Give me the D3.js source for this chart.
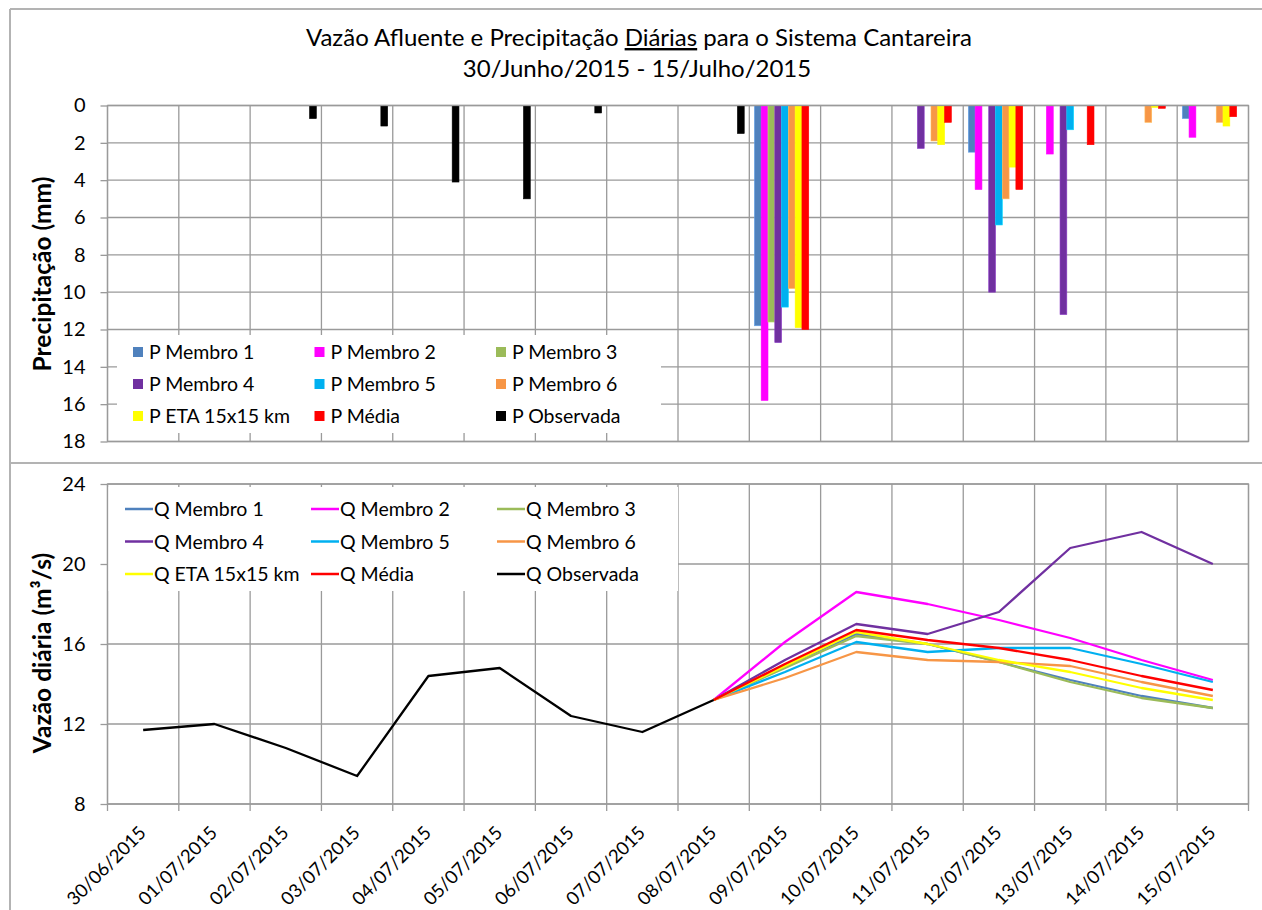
<!DOCTYPE html>
<html>
<head>
<meta charset="utf-8">
<script src="https://cdn.jsdelivr.net/npm/d3@7"></script>
<style>
  body { margin: 0; background: #fff; }
  text { font-family: Lato, "Open Sans", sans-serif; fill: #000; }
</style>
</head>
<body>
<div id="chart"></div>
<script>
// dias
const dates = ["30/06/2015", "01/07/2015", "02/07/2015", "03/07/2015", "04/07/2015", "05/07/2015",
    "06/07/2015", "07/07/2015", "08/07/2015", "09/07/2015", "10/07/2015", "11/07/2015",
    "12/07/2015", "13/07/2015", "14/07/2015", "15/07/2015"]

// precipitacao (mm)
const pMembro1 = [null, null, null, null, null, null, null, null, null, 11.8, 0, 0, 2.5, 0, 0, 0.7]
const pMembro2 = [null, null, null, null, null, null, null, null, null, 15.8, 0, 0, 4.5, 2.6, 0, 1.7]
const pMembro3 = [null, null, null, null, null, null, null, null, null, 11.6, 0, 0, 0, 0, 0, 0]
const pMembro4 = [null, null, null, null, null, null, null, null, null, 12.7, 0, 2.3, 10.0, 11.2, 0, 0]
const pMembro5 = [null, null, null, null, null, null, null, null, null, 10.8, 0, 0, 6.4, 1.3, 0, 0]
const pMembro6 = [null, null, null, null, null, null, null, null, null, 9.8, 0, 1.9, 5.0, 0, 0.9, 0.9]
const pEta = [null, null, null, null, null, null, null, null, null, 11.9, 0, 2.1, 3.3, 0, 0.1, 1.1]
const pMedia = [null, null, null, null, null, null, null, null, null, 12.0, 0, 0.9, 4.5, 2.1, 0.15, 0.6]
const pObservada = [0, 0, 0.7, 1.1, 4.1, 5.0, 0.4, 0, 1.5, null, null, null, null, null, null, null]

// vazao (m3/s)
const qMembro1 = [null, null, null, null, null, null, null, null, 13.2, 14.9, 16.5, 16.0, 15.1, 14.2, 13.4, 12.8]
const qMembro2 = [null, null, null, null, null, null, null, null, 13.2, 16.1, 18.6, 18.0, 17.2, 16.3, 15.2, 14.2]
const qMembro3 = [null, null, null, null, null, null, null, null, 13.2, 14.8, 16.4, 16.0, 15.1, 14.1, 13.3, 12.8]
const qMembro4 = [null, null, null, null, null, null, null, null, 13.2, 15.2, 17.0, 16.5, 17.6, 20.8, 21.6, 20.0]
const qMembro5 = [null, null, null, null, null, null, null, null, 13.2, 14.6, 16.1, 15.6, 15.8, 15.8, 15.0, 14.1]
const qMembro6 = [null, null, null, null, null, null, null, null, 13.2, 14.3, 15.6, 15.2, 15.1, 14.9, 14.1, 13.4]
const qEta = [null, null, null, null, null, null, null, null, 13.2, 14.9, 16.6, 16.0, 15.2, 14.6, 13.8, 13.2]
const qMedia = [null, null, null, null, null, null, null, null, 13.2, 15.0, 16.7, 16.2, 15.8, 15.2, 14.4, 13.7]
const qObservada = [11.7, 12.0, 10.8, 9.4, 14.4, 14.8, 12.4, 11.6, 13.2, null, null, null, null, null, null, null]

const pNames = ["P Membro 1", "P Membro 2", "P Membro 3", "P Membro 4", "P Membro 5", "P Membro 6",
    "P ETA 15x15 km", "P Média", "P Observada"]
const qNames = ["Q Membro 1", "Q Membro 2", "Q Membro 3", "Q Membro 4", "Q Membro 5", "Q Membro 6",
    "Q ETA 15x15 km", "Q Média", "Q Observada"]
const pValues = [pMembro1, pMembro2, pMembro3, pMembro4, pMembro5, pMembro6, pEta, pMedia, pObservada]
const qValues = [qMembro1, qMembro2, qMembro3, qMembro4, qMembro5, qMembro6, qEta, qMedia, qObservada]
const pTicks = [0, 2, 4, 6, 8, 10, 12, 14, 16, 18]
const qTicks = [8, 12, 16, 20, 24]

const colors = ["#4F81BD", "#FF00FF", "#9BBB59", "#7030A0", "#00B0F0", "#F79646", "#FFFF00", "#FF0000", "#000000"]
const gridColor = "#9a9a9a"

const svg = d3.select("#chart").append("svg")
    .attr("width", 1262)
    .attr("height", 910)

const left = 107.5, right = 1248.5
const x = d3.scaleBand().domain(dates).range([left, right])
const sub = d3.scaleBand().domain(d3.range(9)).range([0, x.bandwidth()]).paddingOuter(0.75)
const yP = d3.scaleLinear().domain([0, 18]).range([105.5, 441.5])
const yQ = d3.scaleLinear().domain([8, 24]).range([804, 484])
const bounds = dates.map(d => x(d)).concat([right])
const cx = i => x(dates[i]) + x.bandwidth() / 2

// moldura
svg.append("line").attr("x1", 10).attr("y1", 9).attr("x2", 10).attr("y2", 910)
    .style("stroke", "#b3b3b3").style("stroke-width", 2)
svg.append("line").attr("x1", 10).attr("y1", 9).attr("x2", 1262).attr("y2", 9)
    .style("stroke", "#b3b3b3").style("stroke-width", 2)
svg.append("line").attr("x1", 10).attr("y1", 463).attr("x2", 1262).attr("y2", 463)
    .style("stroke", "#b3b3b3").style("stroke-width", 2)

// titulo
const title = svg.append("text").attr("x", 639).attr("y", 46)
    .attr("text-anchor", "middle").style("font-size", "24px")
title.append("tspan").text("Vazão Afluente e Precipitação ")
title.append("tspan").text("Diárias").style("text-decoration", "underline")
title.append("tspan").text(" para o Sistema Cantareira")
svg.append("text").attr("x", 637).attr("y", 77)
    .attr("text-anchor", "middle").style("font-size", "24px")
    .text("30/Junho/2015 - 15/Julho/2015")

// ---------- grafico de cima ----------
const topG = svg.append("g")
topG.selectAll(".hgrid").data(pTicks).enter().append("line")
    .attr("x1", left).attr("x2", right)
    .attr("y1", d => yP(d)).attr("y2", d => yP(d))
    .style("stroke", gridColor).style("stroke-width", 1.3)
topG.selectAll(".vgrid").data(bounds).enter().append("line")
    .attr("x1", d => d).attr("x2", d => d)
    .attr("y1", yP(0)).attr("y2", yP(18))
    .style("stroke", gridColor).style("stroke-width", 1.3)

const yPAxis = topG.append("g").attr("transform", `translate(${left},0)`)
    .call(d3.axisLeft(yP).tickValues(pTicks).tickSize(7).tickPadding(15))
yPAxis.select(".domain").remove()
yPAxis.selectAll("line").style("stroke", gridColor).style("stroke-width", 1.3)
yPAxis.selectAll("text").style("font-size", "20px")
yPAxis.attr("font-family", null)

// legenda P
topG.append("rect").attr("x", 117).attr("y", 335).attr("width", 544).attr("height", 98).style("fill", "#fff")
const pLeg = topG.selectAll(".pleg").data(pNames).enter().append("g")
    .attr("transform", (d, i) => `translate(${133 + (i % 3) * 181.5},${352 + Math.floor(i / 3) * 32})`)
pLeg.append("rect").attr("x", 0).attr("y", -5).attr("width", 10).attr("height", 10)
    .style("fill", (d, i) => colors[i])
pLeg.append("text").attr("x", 16).attr("y", 7).style("font-size", "19.5px").text(d => d)

// barras
pValues.forEach((vals, s) => {
    const bars = vals.map((v, i) => ({ date: dates[i], v: v })).filter(d => d.v != null && d.v > 0)
    topG.selectAll(".bar" + s).data(bars).enter().append("rect")
        .attr("x", d => x(d.date) + sub(s))
        .attr("y", yP(0))
        .attr("width", sub.bandwidth())
        .attr("height", d => yP(d.v) - yP(0))
        .style("fill", colors[s])
        .style("stroke", d3.color(colors[s]).brighter(0.6))
        .style("stroke-width", 0.6)
})

// borda
topG.append("rect").attr("x", left).attr("y", yP(0)).attr("width", right - left).attr("height", yP(18) - yP(0))
    .style("fill", "none").style("stroke", gridColor).style("stroke-width", 1.3)

svg.append("text").attr("transform", "translate(51,274) rotate(-90)")
    .attr("text-anchor", "middle").style("font-size", "24.5px").style("font-weight", "bold")
    .text("Precipitação (mm)")

// ---------- grafico de baixo ----------
const botG = svg.append("g")
botG.selectAll(".hgrid").data(qTicks).enter().append("line")
    .attr("x1", left).attr("x2", right)
    .attr("y1", d => yQ(d)).attr("y2", d => yQ(d))
    .style("stroke", gridColor).style("stroke-width", 1.3)
botG.selectAll(".vgrid").data(bounds).enter().append("line")
    .attr("x1", d => d).attr("x2", d => d)
    .attr("y1", yQ(24)).attr("y2", yQ(8) + 7)
    .style("stroke", gridColor).style("stroke-width", 1.3)

const yQAxis = botG.append("g").attr("transform", `translate(${left},0)`)
    .call(d3.axisLeft(yQ).tickValues(qTicks).tickSize(7).tickPadding(15))
yQAxis.select(".domain").remove()
yQAxis.selectAll("line").style("stroke", gridColor).style("stroke-width", 1.3)
yQAxis.selectAll("text").style("font-size", "20px")
yQAxis.attr("font-family", null)

// legenda Q
botG.append("rect").attr("x", 107).attr("y", 487).attr("width", 571).attr("height", 104).style("fill", "#fff")

const line = d3.line()
    .defined(v => v != null)
    .x((v, i) => cx(i))
    .y(v => yQ(v))

qValues.forEach((vals, s) => {
    botG.append("path").datum(vals)
        .attr("d", line)
        .style("fill", "none")
        .style("stroke", colors[s])
        .style("stroke-width", 2.3)
        .style("stroke-linejoin", "round")
})

const qLeg = botG.selectAll(".qleg").data(qNames).enter().append("g")
    .attr("transform", (d, i) => `translate(${125 + (i % 3) * 186},${509 + Math.floor(i / 3) * 32.5})`)
qLeg.append("line").attr("x1", 0).attr("x2", 28).attr("y1", 0).attr("y2", 0)
    .style("stroke", (d, i) => colors[i]).style("stroke-width", 2.5)
qLeg.append("text").attr("x", 29).attr("y", 7).style("font-size", "19.5px").text(d => d)

botG.append("rect").attr("x", left).attr("y", yQ(24)).attr("width", right - left).attr("height", yQ(8) - yQ(24))
    .style("fill", "none").style("stroke", gridColor).style("stroke-width", 1.3)

// rotulos de data
botG.selectAll(".xlab").data(dates).enter().append("text")
    .attr("transform", (d, i) => `translate(${cx(i) + 4},834) rotate(-45)`)
    .attr("text-anchor", "end")
    .style("font-size", "18.5px")
    .text(d => d)

svg.append("text").attr("transform", "translate(51,653) rotate(-90)")
    .attr("text-anchor", "middle").style("font-size", "24.5px").style("font-weight", "bold")
    .text("Vazão diária (m³/s)")
</script>
</body>
</html>
